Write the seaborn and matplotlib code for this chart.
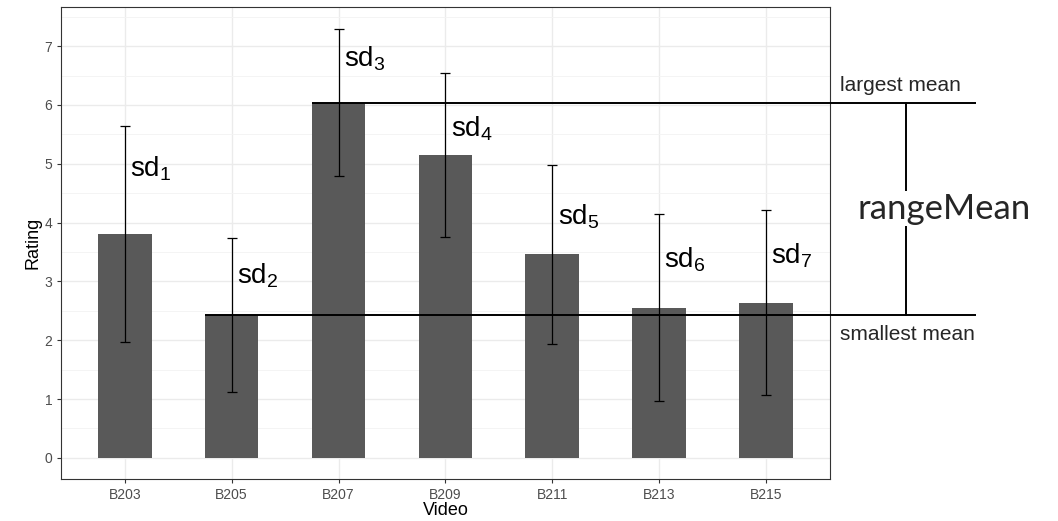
import numpy as np
import pandas as pd
import matplotlib
matplotlib.use("Agg")
import matplotlib.pyplot as plt
import seaborn as sns

# ---- data ----
videos = ["B203", "B205", "B207", "B209", "B211", "B213", "B215"]
means = [3.81, 2.43, 6.04, 5.15, 3.46, 2.555, 2.64]
sds = [1.84, 1.31, 1.255, 1.395, 1.52, 1.585, 1.58]
sd_labels = [r"$\mathregular{sd_{%d}}$" % (i + 1) for i in range(len(videos))]

# label layout (baseline heights in data units)
sd_label_y = [4.78, 2.96, 6.65, 5.46, 3.97, 3.24, 3.31]

df = pd.DataFrame({"Video": videos, "Rating": means, "sd": sds})

sns.set_theme(style="white")
plt.rcParams["font.family"] = ["Liberation Sans", "DejaVu Sans"]

fig = plt.figure(figsize=(10.58, 5.21), dpi=100)
ax = fig.add_axes([0.0574, 0.080, 0.7271, 0.9066])

sns.barplot(data=df, x="Video", y="Rating", color="#595959", width=0.5,
            errorbar=None, saturation=1, ax=ax, zorder=2)
for p in ax.patches:
    p.set_edgecolor("none")

xpos = np.arange(len(videos))
ax.errorbar(xpos, df["Rating"], yerr=df["sd"], fmt="none", ecolor="black",
            elinewidth=0.9, capsize=3.85, capthick=0.9, zorder=3)

ax.set_xlim(-0.6, 6.6)
ax.set_ylim(-0.365, 7.665)
ax.set_yticks(range(0, 8))
ax.set_yticks(np.arange(0.5, 7.6, 1.0), minor=True)

# grid like theme_bw
ax.grid(True, which="major", color="#EBEBEB", linewidth=1.0, zorder=0)
ax.grid(True, which="minor", axis="y", color="#F3F3F3", linewidth=0.6, zorder=0)
ax.set_axisbelow(True)
for s in ax.spines.values():
    s.set_color("#333333")
    s.set_linewidth(0.8)

ax.tick_params(axis="both", which="major", direction="out", length=3,
               width=0.8, color="#333333", labelcolor="#4D4D4D", labelsize=10,
               bottom=True, left=True, pad=3)
ax.tick_params(axis="both", which="minor", length=0)
ax.set_xlabel("Video", fontsize=13, color="black", labelpad=0)
ax.set_ylabel("Rating", fontsize=13, color="black", labelpad=2)

# sd labels
for i, (lab, yy) in enumerate(zip(sd_labels, sd_label_y)):
    ax.text(i + 0.05, yy, lab, fontsize=20, color="black", ha="left",
            va="baseline", zorder=5)

# largest / smallest mean lines
imax = int(np.argmax(means))
imin = int(np.argmin(means))
mmax = means[imax]
mmin = means[imin]
x_end = 7.97
ax.plot([imax - 0.25, x_end], [mmax, mmax], color="black", lw=1.4,
        clip_on=False, zorder=4, solid_capstyle="butt")
ax.plot([imin - 0.25, x_end], [mmin, mmin], color="black", lw=1.4,
        clip_on=False, zorder=4, solid_capstyle="butt")
ax.plot([7.31, 7.31], [mmin, mmax], color="black", lw=1.4,
        clip_on=False, zorder=4)

ax.annotate("largest mean", xy=(6.69, mmax), xytext=(0, 8),
            textcoords="offset points", ha="left", va="baseline",
            fontsize=15, annotation_clip=False)
ax.annotate("smallest mean", xy=(6.69, mmin), xytext=(0, -7),
            textcoords="offset points", ha="left", va="top",
            fontsize=15, annotation_clip=False)
ax.text(7.67, (mmax + mmin) / 2, "rangeMean", fontsize=25, ha="center",
        va="center", family=["Lato", "DejaVu Sans"], clip_on=False,
        bbox=dict(facecolor="white", edgecolor="none", pad=1), zorder=6)

fig.savefig("out.png", dpi=100)
